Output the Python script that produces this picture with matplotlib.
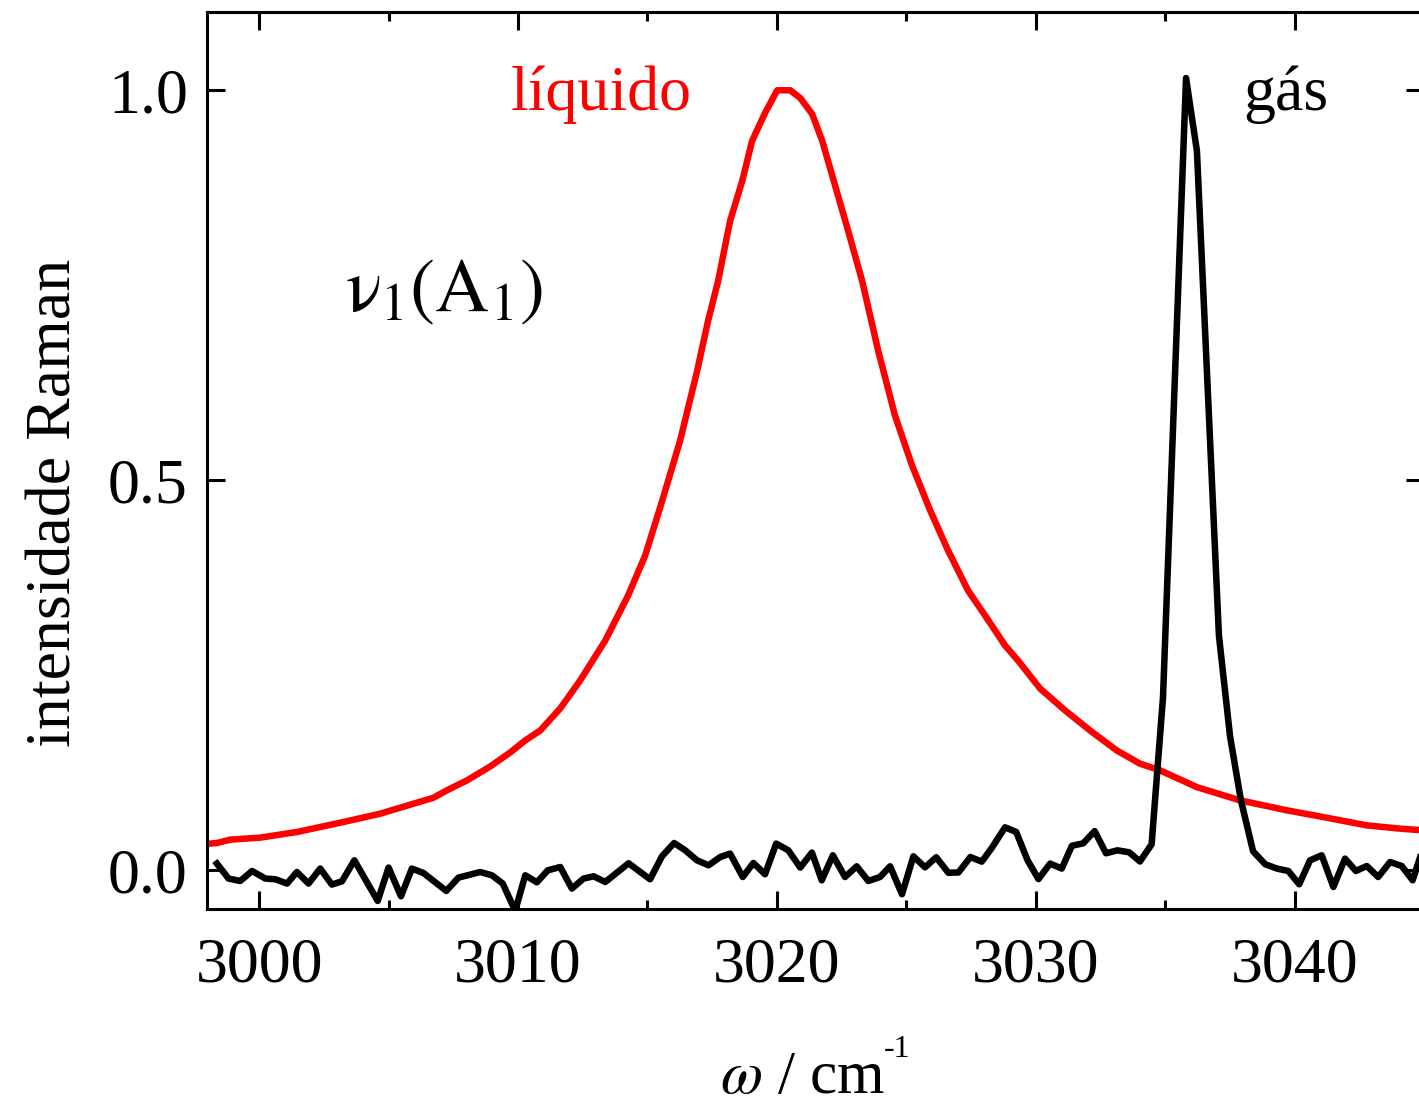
import matplotlib
matplotlib.use("Agg")
import matplotlib.pyplot as plt
from matplotlib.ticker import MultipleLocator

plt.rcParams['font.family'] = ['Liberation Serif', 'DejaVu Serif']
plt.rcParams['mathtext.fontset'] = 'stix'

# liquid phase spectrum (normalised)
liq_w = [2998.00, 2998.37, 2998.89, 3000.05, 3001.46, 3003.26, 3004.68, 3006.74,
         3007.25, 3008.03, 3008.93, 3009.70, 3010.28, 3010.86, 3011.63, 3012.40,
         3013.37, 3014.25, 3014.91, 3015.57, 3016.26, 3016.92, 3017.34, 3017.73,
         3018.19, 3018.66, 3019.04, 3019.54, 3020.01, 3020.51, 3020.90, 3021.36,
         3021.75, 3022.25, 3022.75, 3023.29, 3023.91, 3024.56, 3025.22, 3025.92,
         3026.61, 3027.38, 3028.04, 3028.81, 3029.31, 3030.16, 3031.13, 3032.09,
         3033.12, 3034.02, 3034.80, 3036.21, 3037.88, 3039.69, 3041.09, 3042.78,
         3044.06, 3044.99]
liq_i = [0.0339, 0.0350, 0.0393, 0.0419, 0.0491, 0.0619, 0.0726, 0.0931,
         0.1025, 0.1153, 0.1332, 0.1511, 0.1665, 0.1793, 0.2075, 0.2434,
         0.2946, 0.3522, 0.4035, 0.4739, 0.5508, 0.6405, 0.7045, 0.7557,
         0.8326, 0.8838, 0.9351, 0.9709, 1.0000, 1.0000, 0.9901, 0.9696,
         0.9351, 0.8774, 0.8198, 0.7557, 0.6661, 0.5828, 0.5188, 0.4611,
         0.4099, 0.3587, 0.3266, 0.2882, 0.2690, 0.2331, 0.2049, 0.1793,
         0.1537, 0.1367, 0.1281, 0.1067, 0.0897, 0.0769, 0.0683, 0.0576,
         0.0534, 0.0512]

# gas phase spectrum (normalised)
gas_w = [2998.37, 2998.82, 2999.27, 2999.73, 3000.24, 3000.63, 3001.08, 3001.46,
         3001.91, 3002.36, 3002.81, 3003.20, 3003.68, 3004.58, 3005.00, 3005.48,
         3005.90, 3006.35, 3007.23, 3007.70, 3008.54, 3008.99, 3009.41, 3009.89,
         3010.28, 3010.73, 3011.15, 3011.63, 3012.08, 3012.53, 3012.92, 3013.37,
         3014.27, 3015.10, 3015.56, 3016.03, 3016.46, 3016.91, 3017.36, 3017.81,
         3018.19, 3018.68, 3019.09, 3019.54, 3019.97, 3020.44, 3020.90, 3021.35,
         3021.73, 3022.16, 3022.63, 3023.08, 3023.53, 3023.98, 3024.37, 3024.83,
         3025.27, 3025.72, 3026.15, 3026.62, 3027.01, 3027.47, 3027.91, 3028.30,
         3028.81, 3029.24, 3029.68, 3030.10, 3030.55, 3031.00, 3031.39, 3031.83,
         3032.27, 3032.71, 3033.15, 3033.60, 3034.02, 3034.47, 3034.91, 3035.80,
         3036.22, 3037.07, 3037.50, 3037.92, 3038.39, 3038.86, 3039.31, 3039.75,
         3040.17, 3040.59, 3041.04, 3041.49, 3041.94, 3042.36, 3042.78, 3043.22,
         3043.68, 3044.13, 3044.55, 3044.99]
gas_i = [0.0086, -0.0106, -0.0137, -0.0009, -0.0106, -0.0115, -0.0170, -0.0022,
         -0.0170, 0.0022, -0.0183, -0.0141, 0.0128, -0.0393, 0.0035, -0.0333,
         0.0022, -0.0035, -0.0265, -0.0094, -0.0022, -0.0064, -0.0170, -0.0520,
         -0.0064, -0.0154, 0.0000, 0.0042, -0.0234, -0.0106, -0.0077, -0.0150,
         0.0090, -0.0115, 0.0179, 0.0350, 0.0256, 0.0128, 0.0064, 0.0170,
         0.0214, -0.0086, 0.0094, -0.0051, 0.0342, 0.0256, 0.0035, 0.0227,
         -0.0128, 0.0192, -0.0086, 0.0051, -0.0137, -0.0086, 0.0051, -0.0307,
         0.0179, 0.0038, 0.0167, -0.0032, -0.0028, 0.0170, 0.0111, 0.0288,
         0.0551, 0.0491, 0.0128, -0.0113, 0.0086, 0.0022, 0.0314, 0.0346,
         0.0503, 0.0218, 0.0256, 0.0231, 0.0113, 0.0333, 0.2216, 1.0157,
         0.9223, 0.3010, 0.1716, 0.0897, 0.0243, 0.0077, 0.0022, -0.0009,
         -0.0179, 0.0128, 0.0192, -0.0214, 0.0150, -0.0009, 0.0055, -0.0086,
         0.0106, 0.0055, -0.0128, 0.0320]

fig = plt.figure(figsize=(14.19, 11.07), dpi=100)
ax = fig.add_axes([0.1461, 0.1786, 0.8576, 0.8103])

ax.plot(liq_w, liq_i, color='red', lw=4.7)
ax.plot(gas_w, gas_i, color='black', lw=4.7)

ax.set_xlim(2998, 3045)
ax.set_ylim(-0.05, 1.1)
ax.xaxis.set_major_locator(MultipleLocator(10))
ax.xaxis.set_minor_locator(MultipleLocator(5))
ax.yaxis.set_major_locator(MultipleLocator(0.5))
ax.ticklabel_format(useOffset=False)

ax.tick_params(which='both', direction='in', top=True, right=True, width=2.2,
               labelsize=46)
ax.tick_params(which='major', length=13)
ax.tick_params(which='minor', length=6.5)
ax.tick_params(axis='x', pad=20)
ax.tick_params(axis='y', pad=14)
for s in ax.spines.values():
    s.set_linewidth(2.2)

ax.set_ylabel('intensidade Raman', fontsize=46)
ax.yaxis.set_label_coords(-0.101, 0.453)

# x label: omega / cm with a raised -1
fig.text(720 / 1419, 14 / 1107, r'$\omega$ / cm', fontsize=44,
         ha='left', va='baseline')
fig.text(884 / 1419, 50 / 1107, '-1', fontsize=23, ha='left', va='baseline')

ax.text(3009.70, 0.975, 'líquido', color='red', fontsize=46,
        ha='left', va='baseline')
ax.text(3038.0, 0.975, 'gás', color='black', fontsize=46,
        ha='left', va='baseline')
# upright nu from STIX, subscripts through mathtext
ax.text(3003.33, 0.717, 'ν$_1$(A$_1$)', fontsize=54, family='STIXGeneral',
        ha='left', va='baseline')

fig.savefig('out.png', dpi=100)
